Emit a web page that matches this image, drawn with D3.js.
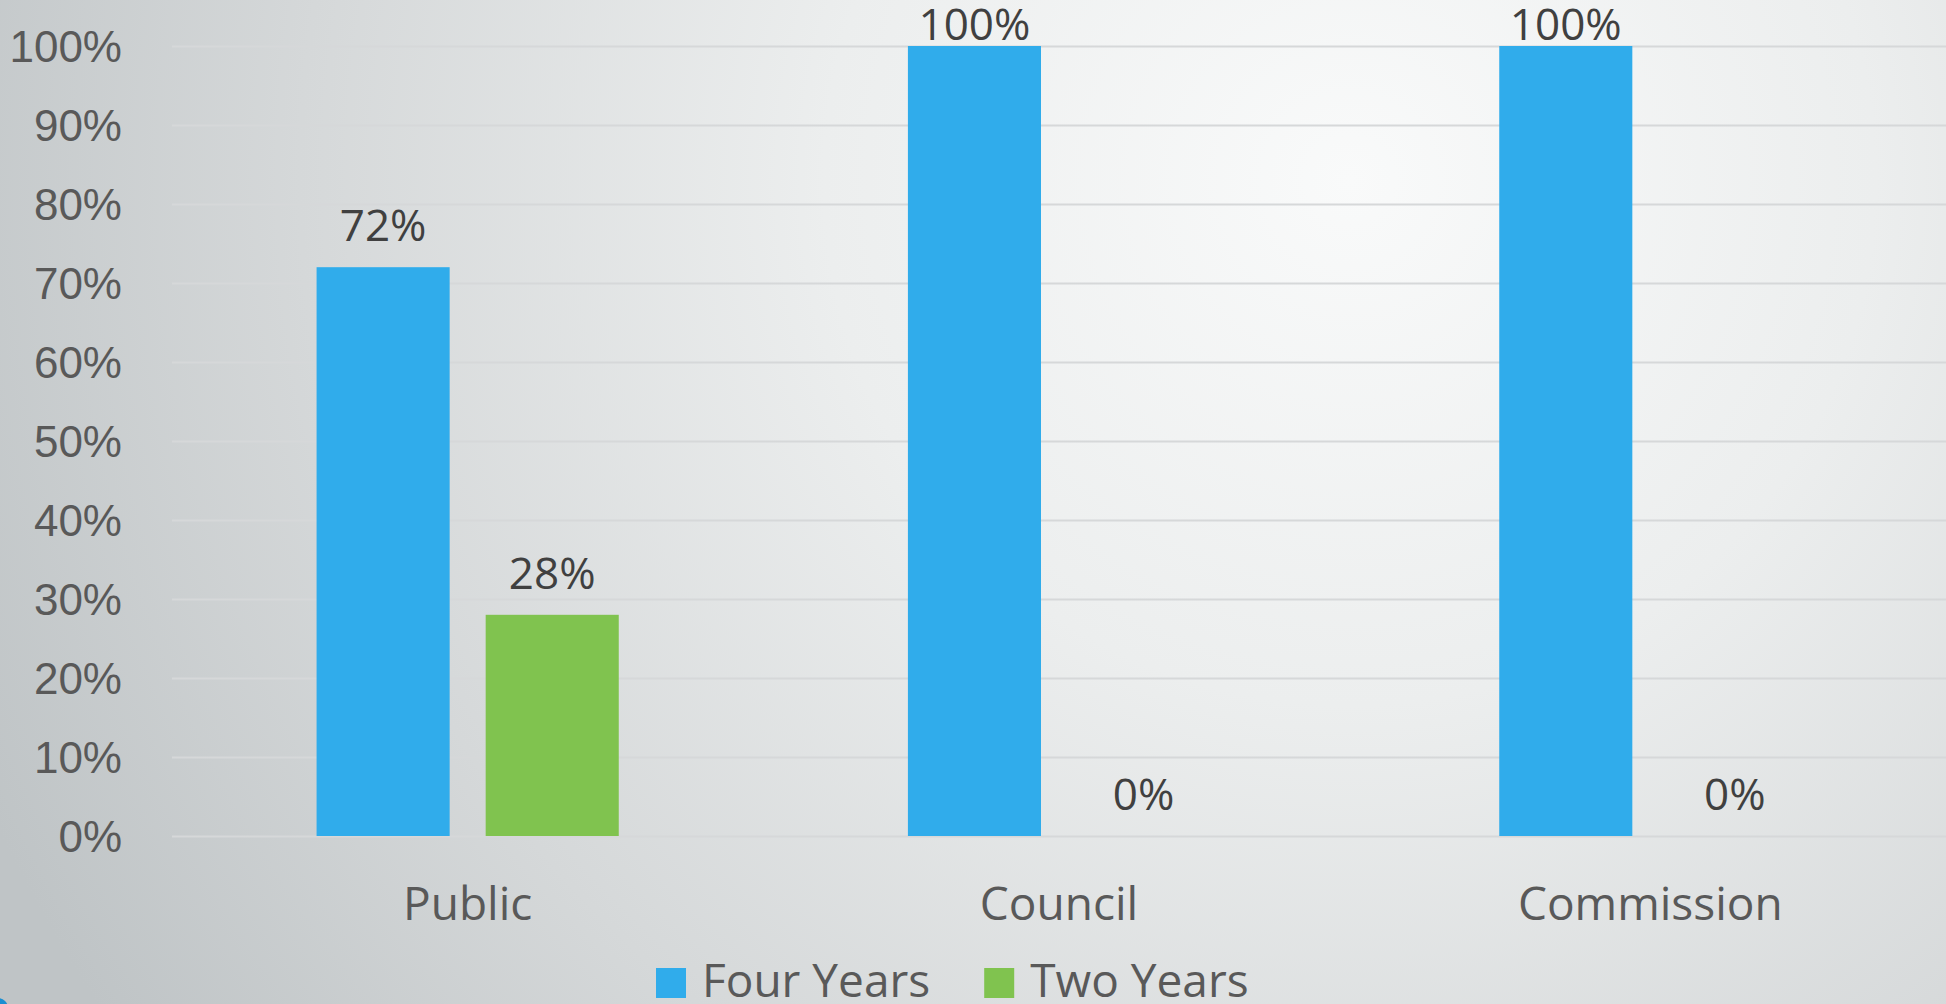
<!DOCTYPE html>
<html>
<head>
<meta charset="utf-8">
<script src="https://cdn.jsdelivr.net/npm/d3@7"></script>
<style>
  html, body { margin: 0; padding: 0; overflow: hidden; background: #e6e8e9; }
  svg { display: block; font-family: "Open Sans", "DejaVu Sans", sans-serif; }
</style>
</head>
<body>
<script>
// ---- data ----
const categories = ["Public", "Council", "Commission"];
const seriesNames = ["Four Years", "Two Years"];
const fourYears = [0.72, 1.00, 1.00];
const twoYears = [0.28, 0.00, 0.00];
const yTicks = [0, 0.1, 0.2, 0.3, 0.4, 0.5, 0.6, 0.7, 0.8, 0.9, 1.0];
const seriesColors = ["#30ACEB", "#80C34F"];

const W = 1946, H = 1004;
const margin = { left: 172, right: 0 };

const svg = d3.select("body").append("svg").attr("width", W).attr("height", H);

// background gradient
const defs = svg.append("defs");
const rg = defs.append("radialGradient").attr("id", "bg")
  .attr("gradientUnits", "userSpaceOnUse")
  .attr("cx", 1350).attr("cy", 180).attr("r", 1500);
rg.append("stop").attr("offset", "0%").attr("stop-color", "#f9fafa");
rg.append("stop").attr("offset", "35%").attr("stop-color", "#eceeee");
rg.append("stop").attr("offset", "70%").attr("stop-color", "#d5d8d9");
rg.append("stop").attr("offset", "100%").attr("stop-color", "#bfc4c6");
svg.append("rect").attr("width", W).attr("height", H).attr("fill", "url(#bg)");

// small blue corner detail
svg.append("circle").attr("cx", -2).attr("cy", 1008).attr("r", 10).attr("fill", "#1a8fd2");

const x0 = d3.scaleBand().domain(categories).range([margin.left, W - margin.right]);
const x1 = d3.scaleBand().domain(seriesNames).range([0, x0.bandwidth()])
  .paddingInner(0.213).paddingOuter(0.855);
const y = d3.scaleLinear().domain([0, 1]).range([836, 46]);
const color = d3.scaleOrdinal().domain(seriesNames).range(seriesColors);
const fmt = d3.format(".0%");

// gridlines + y labels
const yAxis = d3.axisLeft(y).tickValues(yTicks).tickFormat(fmt)
  .tickSize(-(W - margin.left - margin.right)).tickPadding(50);
const gy = svg.append("g").attr("transform", `translate(${margin.left},0)`).call(yAxis);
gy.select(".domain").remove();
gy.selectAll(".tick line").attr("stroke", "#d6d8d9").attr("stroke-width", 1.8);
gy.selectAll(".tick text")
  .attr("fill", "#595959").attr("font-size", 44)
  .attr("dy", "0.36em");

// bars
const rows = categories.map((c, i) => ({ cat: c, values: [fourYears[i], twoYears[i]] }));
const groups = svg.append("g").selectAll("g").data(rows).join("g")
  .attr("transform", d => `translate(${x0(d.cat)},0)`);

groups.selectAll("rect").data(d => d.values.map((v, j) => ({ s: seriesNames[j], v })))
  .join("rect")
  .attr("x", d => x1(d.s)).attr("width", x1.bandwidth())
  .attr("y", d => y(d.v)).attr("height", d => y(0) - y(d.v))
  .attr("fill", d => color(d.s));

groups.selectAll("text.lbl").data(d => d.values.map((v, j) => ({ s: seriesNames[j], v })))
  .join("text").attr("class", "lbl")
  .attr("x", d => x1(d.s) + x1.bandwidth() / 2)
  .attr("y", d => Math.max(y(d.v) - 26, 40))
  .attr("text-anchor", "middle")
  .attr("fill", "#404040").attr("font-size", 44)
  .text(d => fmt(d.v));

// x axis labels
const xAxis = d3.axisBottom(x0).tickSize(0).tickPadding(0);
const gx = svg.append("g").attr("transform", "translate(0,920)").call(xAxis);
gx.select(".domain").remove();
gx.selectAll(".tick text").attr("fill", "#595959").attr("font-size", 46).attr("dy", 0)
  .attr("font-family", "\"Open Sans\", sans-serif");

// legend
const legend = svg.append("g");
let lx = 656;
seriesNames.forEach((s, i) => {
  legend.append("rect").attr("x", lx).attr("y", 968).attr("width", 30).attr("height", 30)
    .attr("fill", color(s));
  const t = legend.append("text").attr("x", lx + 46).attr("y", 997)
    .attr("fill", "#595959").attr("font-size", 46).text(s);
  lx = lx + 46 + t.node().getComputedTextLength() + 54;
});
</script>
</body>
</html>
